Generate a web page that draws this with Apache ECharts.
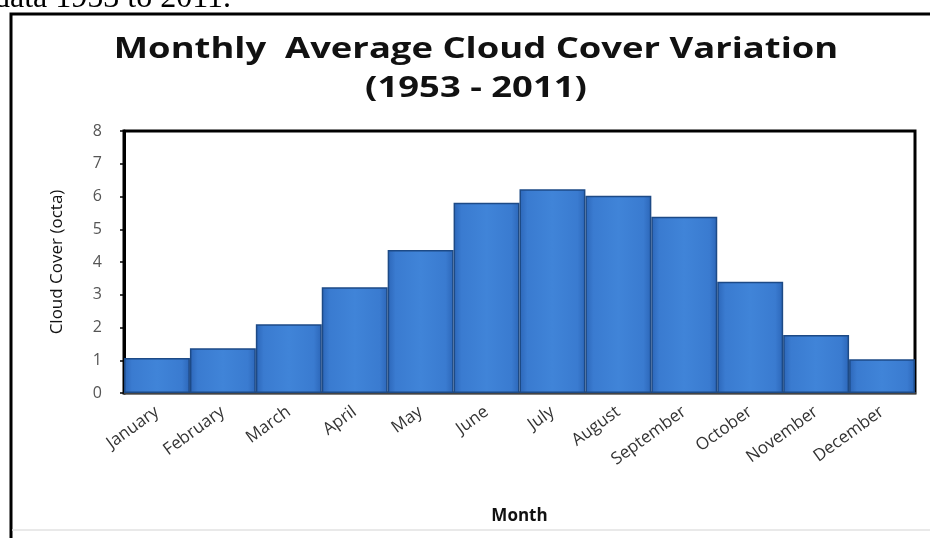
<!DOCTYPE html>
<html>
<head>
<meta charset="utf-8">
<script src="https://cdn.jsdelivr.net/npm/echarts@6/dist/echarts.min.js"></script>
<style>
  html, body { margin: 0; padding: 0; background: #fff; }
  #chart { width: 930px; height: 538px; }
</style>
</head>
<body>
<div id="chart"></div>
<script>
const months = ["January", "February", "March", "April", "May", "June",
  "July", "August", "September", "October", "November", "December"];
const cloudCover = [1.07, 1.37, 2.1, 3.23, 4.37, 5.81, 6.22, 6.02, 5.38, 3.4, 1.77, 1.03];
const yTicks = [0, 1, 2, 3, 4, 5, 6, 7, 8];

const titleText = "Monthly  Average Cloud Cover Variation";
const subTitleText = "(1953 - 2011)";

const chart = echarts.init(document.getElementById("chart"));

// the picture is a bit stretched sideways, so the heading is widened too
const stretch = 1.3;

const barColor = new echarts.graphic.LinearGradient(0, 0, 1, 0, [
  { offset: 0, color: "#2c66b8" },
  { offset: 0.12, color: "#3a7bd0" },
  { offset: 0.5, color: "#4084d8" },
  { offset: 0.88, color: "#3a7bd0" },
  { offset: 1, color: "#2c66b8" },
]);

const option = {
  backgroundColor: "#fff",
  animation: false,
  grid: {
    left: 124,
    top: 131,
    right: 15,
    bottom: 145,
    show: true,
    borderColor: "#000",
    borderWidth: 3,
    backgroundColor: "#fff",
  },
  xAxis: {
    type: "category",
    data: months,
    name: "Month",
    nameLocation: "middle",
    nameGap: 115,
    nameTextStyle: {
      fontFamily: "Open Sans",
      fontWeight: "bold",
      fontSize: 17,
      color: "#111",
    },
    axisLine: { show: true, lineStyle: { color: "#444", width: 2 } },
    axisTick: { show: false },
    axisLabel: {
      interval: 0,
      rotate: 36,
      margin: 17,
      fontFamily: "Open Sans",
      fontSize: 17,
      color: "#333",
    },
  },
  yAxis: {
    type: "value",
    min: yTicks[0],
    max: yTicks[yTicks.length - 1],
    interval: 1,
    name: "Cloud Cover (octa)",
    nameLocation: "middle",
    nameGap: 58,
    nameTextStyle: {
      fontFamily: "Open Sans",
      fontSize: 17,
      color: "#111",
    },
    axisLine: { show: true, lineStyle: { color: "#000", width: 3 } },
    axisTick: { show: true, length: 4, lineStyle: { color: "#000", width: 1.5 } },
    splitLine: { show: false },
    axisLabel: {
      margin: 22,
      fontFamily: "Open Sans",
      fontSize: 16,
      color: "#555",
    },
  },
  series: [
    {
      name: "Cloud Cover",
      type: "bar",
      data: cloudCover,
      barCategoryGap: "0%",
      itemStyle: {
        color: barColor,
        borderColor: "#1d4a86",
        borderWidth: 1.5,
      },
    },
  ],
  graphic: [
    {
      type: "text",
      x: 476,
      y: 50,
      scaleX: stretch,
      style: {
        text: titleText,
        font: "bold 28px 'Open Sans'",
        fill: "#111",
        align: "center",
        verticalAlign: "middle",
      },
    },
    {
      type: "text",
      x: 476,
      y: 89,
      scaleX: stretch,
      style: {
        text: subTitleText,
        font: "bold 28px 'Open Sans'",
        fill: "#111",
        align: "center",
        verticalAlign: "middle",
      },
    },
    {
      type: "text",
      left: -6,
      top: -17,
      style: {
        text: "data 1953 to 2011.",
        font: "32px 'Liberation Serif'",
        fill: "#000",
      },
    },
    {
      type: "polyline",
      shape: { points: [[11, 538], [11, 14], [930, 14]] },
      style: { stroke: "#000", lineWidth: 3, fill: null },
    },
    {
      type: "line",
      shape: { x1: 12, y1: 530, x2: 930, y2: 530 },
      style: { stroke: "#e2e2e2", lineWidth: 1.5 },
    },
  ],
};

chart.setOption(option);
</script>
</body>
</html>
